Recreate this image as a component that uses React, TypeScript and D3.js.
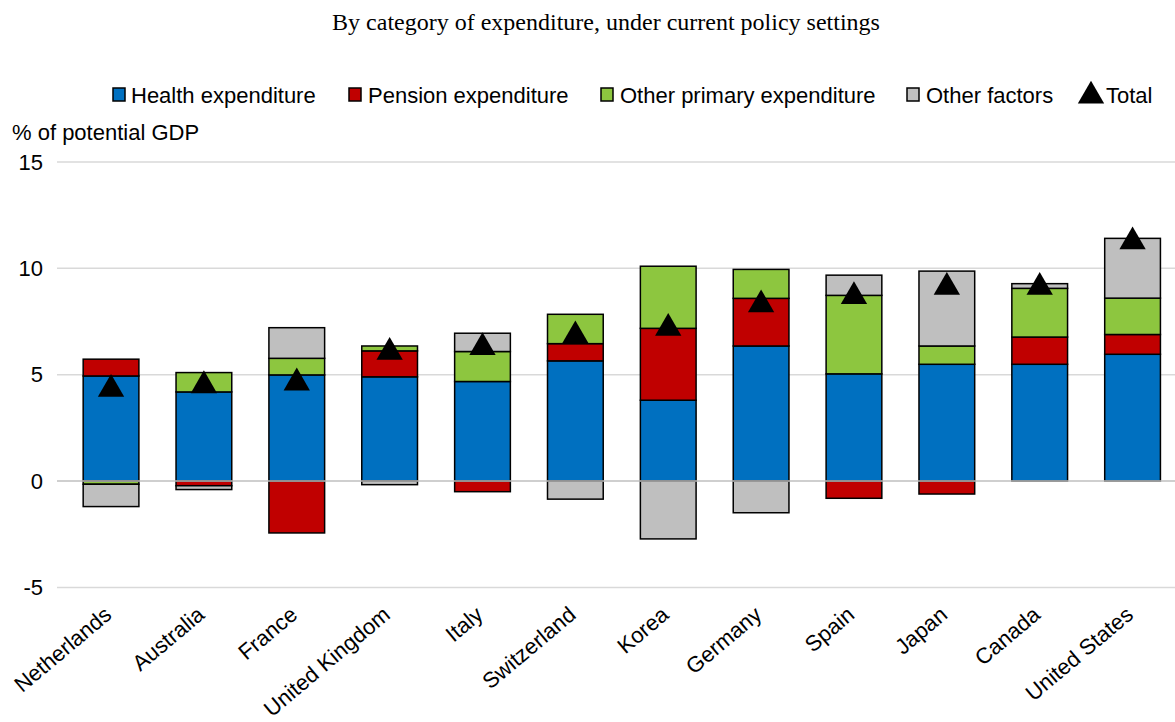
import React from "react";
import * as d3 from "d3";

const categories = ["Netherlands", "Australia", "France", "United Kingdom", "Italy", "Switzerland", "Korea", "Germany", "Spain", "Japan", "Canada", "United States"];
const health = [4.94, 4.19, 4.99, 4.9, 4.68, 5.65, 3.8, 6.35, 5.04, 5.49, 5.49, 5.96];
const pension = [0.79, -0.22, -2.44, 1.22, -0.5, 0.81, 3.38, 2.24, -0.81, -0.61, 1.28, 0.93];
const otherPrimary = [-0.15, 0.91, 0.78, 0.23, 1.41, 1.38, 2.92, 1.36, 3.69, 0.86, 2.29, 1.71];
const otherFactors = [-1.05, -0.18, 1.44, -0.17, 0.86, -0.85, -2.72, -1.49, 0.95, 3.52, 0.22, 2.81];
const total = [4.46, 4.63, 4.76, 6.2, 6.42, 6.98, 7.33, 8.43, 8.82, 9.26, 9.26, 11.4];
const yTicks = [-5, 0, 5, 10, 15];

const seriesNames = ["Health expenditure", "Pension expenditure", "Other primary expenditure", "Other factors"];
const seriesColors = ["#0070C0", "#C00000", "#8DC63F", "#BFBFBF"];
const seriesValues = [health, pension, otherPrimary, otherFactors];

const W = 1175;
const H = 722;
const FONT = "Liberation Sans, Arial, sans-serif";

export default function App() {
  const x = d3.scaleBand<string>().domain(categories).range([64.6, 1179]).paddingInner(0.4).paddingOuter(0.2);
  const y = d3.scaleLinear().domain([-5, 15]).range([587.4, 162]);

  const rows = categories.map((c, i) => {
    const r: any = { cat: c };
    seriesNames.forEach((s, k) => (r[s] = seriesValues[k][i]));
    return r;
  });
  const stack = d3.stack<any>().keys(seriesNames).offset(d3.stackOffsetDiverging);
  const layers = stack(rows);
  const tri = d3.symbol().type(d3.symbolTriangle).size(300);

  const legendItems = [
    { label: seriesNames[0], color: seriesColors[0], sx: 113, tx: 131 },
    { label: seriesNames[1], color: seriesColors[1], sx: 349, tx: 368 },
    { label: seriesNames[2], color: seriesColors[2], sx: 601, tx: 620 },
    { label: seriesNames[3], color: seriesColors[3], sx: 907, tx: 926 },
  ];

  return (
    <svg width={W} height={H} style={{ display: "block", position: "absolute", left: 0, top: 0, background: "#fff" }}>
      <rect x={0} y={0} width={W} height={H} fill="#fff" />
      <text x={606} y={30} textAnchor="middle" fontFamily="Liberation Serif, Times New Roman, serif" fontSize={24} fill="#000">
        By category of expenditure, under current policy settings
      </text>
      {legendItems.map((l) => (
        <g key={l.label}>
          <rect x={l.sx} y={88} width={12} height={13} fill={l.color} stroke="#000" strokeWidth={1.5} />
          <text x={l.tx} y={103} fontFamily={FONT} fontSize={22} fill="#000">{l.label}</text>
        </g>
      ))}
      <path d={tri() as string} transform="translate(1091,96)" fill="#000" />
      <text x={1106} y={103} fontFamily={FONT} fontSize={22} fill="#000">Total</text>
      <text x={12} y={140} fontFamily={FONT} fontSize={22} fill="#000">% of potential GDP</text>

      {yTicks.filter((t) => t !== 0).map((t) => (
        <line key={t} x1={57} x2={1175} y1={y(t)} y2={y(t)} stroke="#D9D9D9" strokeWidth={1.5} />
      ))}
      {yTicks.map((t) => (
        <text key={"l" + t} x={43} y={y(t)} dy="0.35em" textAnchor="end" fontFamily={FONT} fontSize={22} fill="#000">{t}</text>
      ))}

      {layers.map((layer, k) => (
        <g key={layer.key}>
          {layer.map((d, i) => (
            <rect
              key={i}
              x={x(categories[i])}
              width={x.bandwidth()}
              y={y(Math.max(d[0], d[1]))}
              height={Math.abs(y(d[0]) - y(d[1]))}
              fill={seriesColors[k]}
              stroke="#000"
              strokeWidth={1.5}
            />
          ))}
        </g>
      ))}
      <line x1={57} x2={1175} y1={y(0)} y2={y(0)} stroke="#BFBFBF" strokeWidth={1.5} />

      {total.map((v, i) => (
        <path key={i} d={tri() as string} transform={`translate(${(x(categories[i]) as number) + x.bandwidth() / 2},${y(v) + 3})`} fill="#000" />
      ))}

      {categories.map((c) => (
        <text
          key={c}
          transform={`translate(${(x(c) as number) + x.bandwidth() / 2 + 2},${617}) rotate(-40)`}
          textAnchor="end"
          fontFamily={FONT}
          fontSize={22}
          fill="#000"
        >
          {c}
        </text>
      ))}
    </svg>
  );
}
